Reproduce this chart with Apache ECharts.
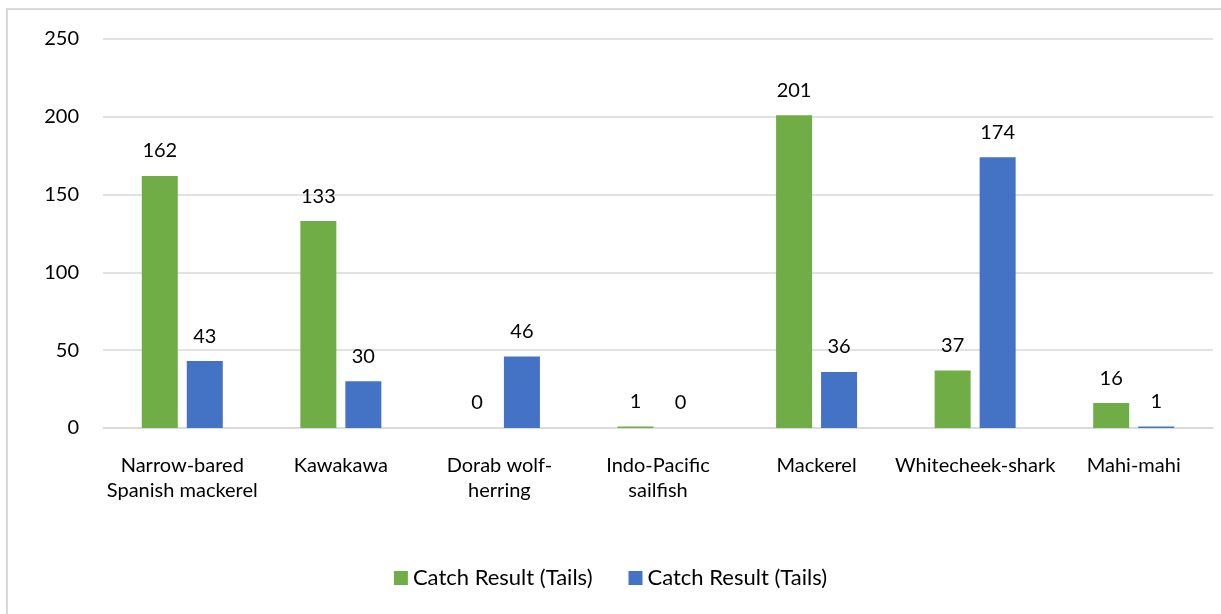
<!DOCTYPE html>
<html>
<head>
<meta charset="utf-8">
<script src="https://cdn.jsdelivr.net/npm/echarts@6/dist/echarts.min.js"></script>
<style>
  html, body { margin: 0; padding: 0; background: #fff; }
  #chart { width: 1221px; height: 614px; }
</style>
</head>
<body>
<div id="chart"></div>
<script>
const categories = ['Narrow-bared\nSpanish mackerel', 'Kawakawa', 'Dorab wolf-\nherring', 'Indo-Pacific\nsailfish', 'Mackerel', 'Whitecheek-shark', 'Mahi-mahi'];
const greenValues = [162, 133, 0, 1, 201, 37, 16];
const blueValues = [43, 30, 46, 0, 36, 174, 1];
const seriesNames = ['Catch Result (Tails)', 'Catch Result (Tails)'];

const chart = echarts.init(document.getElementById('chart'));
const font = 'Lato, "Open Sans", sans-serif';
const label = {
    show: true,
    position: 'top',
    distance: 15,
    color: '#000',
    fontSize: 20,
    fontFamily: font
};

const option = {
    animation: false,
    graphic: [{
        type: 'rect',
        shape: { x: 7, y: 9, width: 1240, height: 640 },
        style: { fill: 'none', stroke: '#d9d9d9', lineWidth: 2 },
        silent: true
    }],
    grid: {
        left: 103,
        right: 8,
        top: 39,
        bottom: 186
    },
    legend: {
        bottom: 20,
        left: 'center',
        itemWidth: 14,
        itemHeight: 14,
        itemGap: 36,
        icon: 'rect',
        textStyle: { color: '#000', fontSize: 22, fontFamily: font },
        data: [
            { name: 'green', itemStyle: { color: '#70ad47' } },
            { name: 'blue', itemStyle: { color: '#4472c4' } }
        ],
        formatter: function (n) { return n === 'green' ? seriesNames[0] : seriesNames[1]; }
    },
    xAxis: {
        type: 'category',
        data: categories,
        axisLine: { lineStyle: { color: '#d9d9d9', width: 1.5 } },
        axisTick: { show: false },
        axisLabel: {
            color: '#000',
            fontSize: 20,
            fontFamily: font,
            margin: 25,
            lineHeight: 25,
            interval: 0
        }
    },
    yAxis: {
        type: 'value',
        min: 0,
        max: 250,
        interval: 50,
        axisLine: { show: false },
        axisTick: { show: false },
        splitLine: { lineStyle: { color: '#d9d9d9', width: 1.5 } },
        axisLabel: { color: '#000', fontSize: 20, fontFamily: font, margin: 24 }
    },
    series: [
        {
            name: 'green',
            type: 'bar',
            data: greenValues,
            barWidth: 36,
            barGap: '25%',
            itemStyle: { color: '#70ad47' },
            label: label
        },
        {
            name: 'blue',
            type: 'bar',
            data: blueValues,
            barWidth: 36,
            itemStyle: { color: '#4472c4' },
            label: label
        }
    ]
};
chart.setOption(option);
</script>
</body>
</html>
